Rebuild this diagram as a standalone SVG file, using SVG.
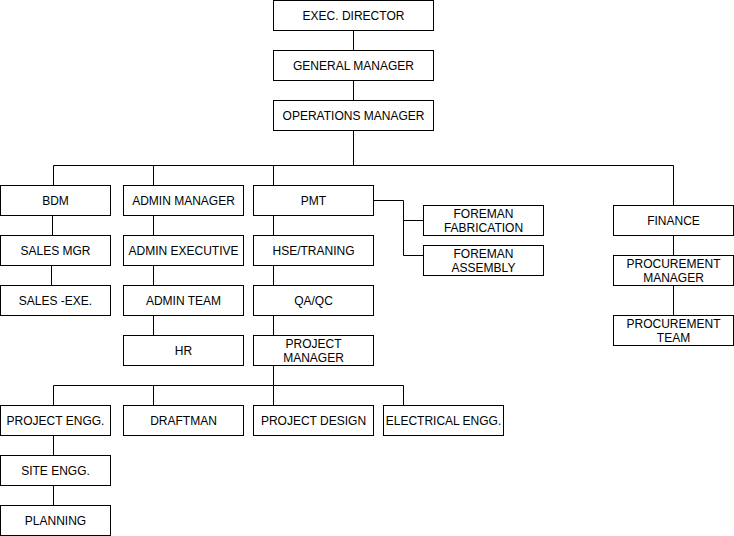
<svg xmlns="http://www.w3.org/2000/svg" width="734" height="536" viewBox="0 0 734 536">
<style>
.b rect{fill:#fff;stroke:#000;stroke-width:1}
.b text{font-family:"Liberation Sans",Arial,sans-serif;font-size:12px;fill:#000;text-anchor:middle}
#edges path{fill:none;stroke:#000;stroke-width:1}
</style>
<rect width="734" height="536" fill="#fff"/>
<g id="edges">
<path d="M353.5 30.5V50.5M353.5 80.5V100.5M353.5 130.5V165.5"/>
<path d="M53.5 165.5H673.5M53.5 165.5V185.5M153.5 165.5V185.5M273.5 165.5V185.5M673.5 165.5V205.5"/>
<path d="M52.5 215.5V235.5M51.5 265.5V285.5"/>
<path d="M153.5 215.5V235.5M153.5 265.5V285.5M153.5 315.5V335.5"/>
<path d="M273.5 215.5V235.5M273.5 265.5V285.5M273.5 315.5V335.5"/>
<path d="M373.5 200.5H403.5V255.5H423.5M403.5 220.5H423.5"/>
<path d="M673.5 235.5V255.5M673.5 285.5V315.5"/>
<path d="M273.5 365.5V385.5M53.5 385.5H403.5M53.5 385.5V405.5M153.5 385.5V405.5M273.5 385.5V405.5M403.5 385.5V405.5"/>
<path d="M53.5 435.5V455.5M53.5 485.5V505.5"/>
</g>
<g id="exec" class="b"><rect x="273.5" y="0.5" width="160" height="30"/><text x="353.5" y="20">EXEC. DIRECTOR</text></g>
<g id="gm" class="b"><rect x="273.5" y="50.5" width="160" height="30"/><text x="353.5" y="70">GENERAL MANAGER</text></g>
<g id="ops" class="b"><rect x="273.5" y="100.5" width="160" height="30"/><text x="353.5" y="120">OPERATIONS MANAGER</text></g>
<g id="bdm" class="b"><rect x="0.5" y="185.5" width="110" height="30"/><text x="55.5" y="205">BDM</text></g>
<g id="salesmgr" class="b"><rect x="0.5" y="235.5" width="110" height="30"/><text x="55.5" y="255">SALES MGR</text></g>
<g id="salesexe" class="b"><rect x="0.5" y="285.5" width="110" height="30"/><text x="55.5" y="305">SALES -EXE.</text></g>
<g id="adminmgr" class="b"><rect x="123.5" y="185.5" width="120" height="30"/><text x="183.5" y="205">ADMIN MANAGER</text></g>
<g id="adminexec" class="b"><rect x="123.5" y="235.5" width="120" height="30"/><text x="183.5" y="255">ADMIN EXECUTIVE</text></g>
<g id="adminteam" class="b"><rect x="123.5" y="285.5" width="120" height="30"/><text x="183.5" y="305">ADMIN TEAM</text></g>
<g id="hr" class="b"><rect x="123.5" y="335.5" width="120" height="30"/><text x="183.5" y="355">HR</text></g>
<g id="pmt" class="b"><rect x="253.5" y="185.5" width="120" height="30"/><text x="313.5" y="205">PMT</text></g>
<g id="hse" class="b"><rect x="253.5" y="235.5" width="120" height="30"/><text x="313.5" y="255">HSE/TRANING</text></g>
<g id="qaqc" class="b"><rect x="253.5" y="285.5" width="120" height="30"/><text x="313.5" y="305">QA/QC</text></g>
<g id="pm" class="b"><rect x="253.5" y="335.5" width="120" height="30"/><text x="313.5" y="348">PROJECT</text><text x="313.5" y="362">MANAGER</text></g>
<g id="fab" class="b"><rect x="423.5" y="205.5" width="120" height="30"/><text x="483.5" y="218">FOREMAN</text><text x="483.5" y="232">FABRICATION</text></g>
<g id="asm" class="b"><rect x="423.5" y="245.5" width="120" height="30"/><text x="483.5" y="258">FOREMAN</text><text x="483.5" y="272">ASSEMBLY</text></g>
<g id="finance" class="b"><rect x="613.5" y="205.5" width="120" height="30"/><text x="673.5" y="225">FINANCE</text></g>
<g id="procmgr" class="b"><rect x="613.5" y="255.5" width="120" height="30"/><text x="673.5" y="268">PROCUREMENT</text><text x="673.5" y="282">MANAGER</text></g>
<g id="procteam" class="b"><rect x="613.5" y="315.5" width="120" height="30"/><text x="673.5" y="328">PROCUREMENT</text><text x="673.5" y="342">TEAM</text></g>
<g id="projengg" class="b"><rect x="0.5" y="405.5" width="110" height="30"/><text x="55.5" y="425">PROJECT ENGG.</text></g>
<g id="siteengg" class="b"><rect x="0.5" y="455.5" width="110" height="30"/><text x="55.5" y="475">SITE ENGG.</text></g>
<g id="planning" class="b"><rect x="0.5" y="505.5" width="110" height="30"/><text x="55.5" y="525">PLANNING</text></g>
<g id="draftman" class="b"><rect x="123.5" y="405.5" width="120" height="30"/><text x="183.5" y="425">DRAFTMAN</text></g>
<g id="projdesign" class="b"><rect x="253.5" y="405.5" width="120" height="30"/><text x="313.5" y="425">PROJECT DESIGN</text></g>
<g id="elec" class="b"><rect x="383.5" y="405.5" width="120" height="30"/><text x="443.5" y="425">ELECTRICAL ENGG.</text></g>
</svg>
